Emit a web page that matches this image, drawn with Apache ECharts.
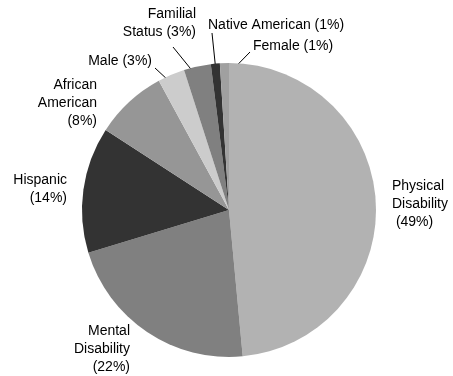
<!DOCTYPE html>
<html>
<head>
<meta charset="utf-8">
<script src="https://cdn.jsdelivr.net/npm/echarts@6/dist/echarts.min.js"></script>
<style>
  html, body { margin: 0; padding: 0; background: #ffffff; }
  #chart { width: 453px; height: 376px; }
</style>
</head>
<body>
<div id="chart"></div>
<script>
// Complaint bases, clockwise from 12 o'clock
const categories = ['Physical\nDisability', 'Mental\nDisability', 'Hispanic', 'African\nAmerican', 'Male', 'Familial\nStatus', 'Native American', 'Female'];
const shares = [49, 22, 14, 8, 3, 3, 1, 1];
// text placed between the name and the "(n%)" part of each label
const labelJoins = ['\n ', '\n', '\n', '\n', ' ', ' ', ' ', ' '];
const sliceColors = ['#b2b2b2', '#808080', '#333333', '#969696', '#cccccc', '#808080', '#333333', '#a0a0a0'];

// Label anchors: [x, y, align]
const labelSpots = [
  [392, 204, 'left'], [130, 349, 'right'], [67, 189, 'right'], [97, 103, 'right'],
  [152, 61, 'right'], [196, 23, 'right'], [208, 25, 'left'], [253, 46, 'left']
];
// Where a leader line leaves its label (null = no leader line)
const leaderStarts = [null, null, null, null, [155, 68], [173, 47], [212, 33], [250, 52]];

const CENTER = [229, 210];
const RADIUS = 147;
const LEADER_DEPTH = 0.9; // leader lines reach into the slice

const total = shares.reduce((a, b) => a + b, 0);
const midAngles = [];
let acc = 0;
shares.forEach(v => { midAngles.push((acc + v / 2) / total * 2 * Math.PI); acc += v; });

const chart = echarts.init(document.getElementById('chart'), null, { renderer: 'canvas' });

chart.setOption({
  animation: false,
  backgroundColor: '#ffffff',
  series: [{
    type: 'pie',
    center: CENTER,
    radius: [0, RADIUS],
    startAngle: 90,
    clockwise: true,
    avoidLabelOverlap: false,
    emphasis: { disabled: true },
    itemStyle: { borderWidth: 0 },
    label: {
      show: true,
      position: 'outside',
      fontFamily: '"Liberation Sans", Arial, sans-serif',
      fontSize: 14,
      lineHeight: 18,
      color: '#000000',
      formatter: p => p.name + labelJoins[p.dataIndex] + '(' + p.value + '%)'
    },
    labelLine: {
      show: true,
      smooth: false,
      lineStyle: { color: '#000000', width: 1 }
    },
    labelLayout: function (params) {
      const i = params.dataIndex;
      const spot = labelSpots[i];
      const out = { x: spot[0], y: spot[1], align: spot[2], verticalAlign: 'middle', hideOverlap: false, moveOverlap: null };
      const start = leaderStarts[i];
      if (start) {
        const a = midAngles[i];
        const r = RADIUS * LEADER_DEPTH;
        const inner = [CENTER[0] + r * Math.sin(a), CENTER[1] - r * Math.cos(a)];
        out.labelLinePoints = [start, start, inner];
      }
      return out;
    },
    data: categories.map((name, i) => ({
      name: name,
      value: shares[i],
      itemStyle: { color: sliceColors[i] },
      labelLine: { show: leaderStarts[i] !== null }
    }))
  }]
});
</script>
</body>
</html>
